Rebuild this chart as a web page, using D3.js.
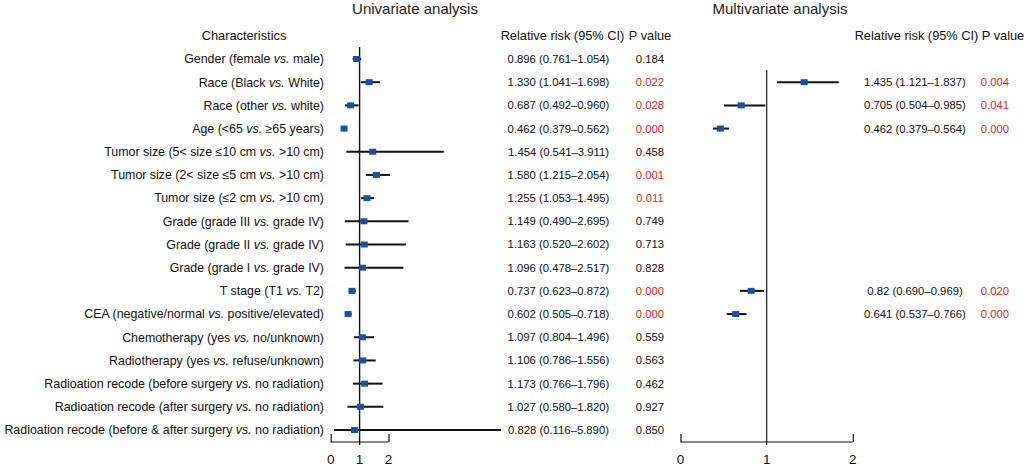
<!DOCTYPE html>
<html><head><meta charset="utf-8">
<script src="https://cdn.jsdelivr.net/npm/d3@7/dist/d3.min.js"></script>
<style>
html,body{margin:0;padding:0;background:#fff;}
svg text{font-family:"Liberation Sans",Arial,Helvetica,sans-serif;}
</style></head>
<body><svg id="c" width="1026" height="467"></svg>
<script>
// ---- data ----
const labelPre = ["Gender (female","Race (Black","Race (other","Age (<65","Tumor size (5< size ≤10 cm","Tumor size (2< size ≤5 cm","Tumor size (≤2 cm","Grade (grade III","Grade (grade II","Grade (grade I","T stage (T1","CEA (negative/normal","Chemotherapy (yes","Radiotherapy (yes","Radioation recode (before surgery","Radioation recode (after surgery","Radioation recode (before & after surgery"];
const labelPost = ["male)","White)","white)","≥65 years)",">10 cm)",">10 cm)",">10 cm)","grade IV)","grade IV)","grade IV)","T2)","positive/elevated)","no/unknown)","refuse/unknown)","no radiation)","no radiation)","no radiation)"];
const uniRR = [0.896,1.330,0.687,0.462,1.454,1.580,1.255,1.149,1.163,1.096,0.737,0.602,1.097,1.106,1.173,1.027,0.828];
const uniLo = [0.761,1.041,0.492,0.379,0.541,1.215,1.053,0.490,0.520,0.478,0.623,0.505,0.804,0.786,0.766,0.580,0.116];
const uniHi = [1.054,1.698,0.960,0.562,3.911,2.054,1.495,2.695,2.602,2.517,0.872,0.718,1.496,1.556,1.796,1.820,5.890];
const uniText = ["0.896 (0.761–1.054)","1.330 (1.041–1.698)","0.687 (0.492–0.960)","0.462 (0.379–0.562)","1.454 (0.541–3.911)","1.580 (1.215–2.054)","1.255 (1.053–1.495)","1.149 (0.490–2.695)","1.163 (0.520–2.602)","1.096 (0.478–2.517)","0.737 (0.623–0.872)","0.602 (0.505–0.718)","1.097 (0.804–1.496)","1.106 (0.786–1.556)","1.173 (0.766–1.796)","1.027 (0.580–1.820)","0.828 (0.116–5.890)"];
const uniP = ["0.184","0.022","0.028","0.000","0.458","0.001","0.011","0.749","0.713","0.828","0.000","0.000","0.559","0.563","0.462","0.927","0.850"];
const multiRow = [1,2,3,10,11];
const multiRR = [1.435,0.705,0.462,0.82,0.641];
const multiLo = [1.121,0.504,0.379,0.690,0.537];
const multiHi = [1.837,0.985,0.564,0.969,0.766];
const multiText = ["1.435 (1.121–1.837)","0.705 (0.504–0.985)","0.462 (0.379–0.564)","0.82 (0.690–0.969)","0.641 (0.537–0.766)"];
const multiP = ["0.004","0.041","0.000","0.020","0.000"];
const axisTicks = [0,1,2];

// ---- layout ----
const svg = d3.select("#c");
const RED = "#e4261f", BLUE = "#1f4f9b", INK = "#111";
const fsLab = 12.4, fsHdr = 12.8, fsVal = 11.3;
const y = d3.scalePoint().domain(d3.range(17)).range([59, 430]);
const xL = d3.scaleLinear().domain([0,2]).range([330.7, 388.5]);
const xR = d3.scaleLinear().domain([0,2]).range([680.5, 852.8]);
const axisY = 442;

// titles
svg.append("text").attr("x",415).attr("y",13.5).attr("text-anchor","middle").attr("font-size",15).attr("fill","#222").text("Univariate analysis");
svg.append("text").attr("x",780).attr("y",13.5).attr("text-anchor","middle").attr("font-size",15).attr("fill","#222").text("Multivariate analysis");
// headers
const hdrY = 39.5;
svg.append("text").attr("x",244).attr("y",hdrY).attr("text-anchor","middle").attr("font-size",fsHdr).attr("fill",INK).text("Characteristics");
svg.append("text").attr("x",562.5).attr("y",hdrY).attr("text-anchor","middle").attr("font-size",fsHdr).attr("fill",INK).text("Relative risk (95% CI)");
svg.append("text").attr("x",650).attr("y",hdrY).attr("text-anchor","middle").attr("font-size",fsHdr).attr("fill",INK).text("P value");
svg.append("text").attr("x",916.5).attr("y",hdrY).attr("text-anchor","middle").attr("font-size",fsHdr).attr("fill",INK).text("Relative risk (95% CI)");
svg.append("text").attr("x",1003).attr("y",hdrY).attr("text-anchor","middle").attr("font-size",fsHdr).attr("fill",INK).text("P value");

// labels
const lab = svg.append("g");
d3.range(17).forEach(i=>{
  const t = lab.append("text").attr("x",324).attr("y",y(i)).attr("dy","0.35em").attr("text-anchor","end").attr("font-size",fsLab).attr("fill",INK);
  t.append("tspan").text(labelPre[i]+" ");
  t.append("tspan").attr("font-style","italic").text("vs.");
  t.append("tspan").text(" "+labelPost[i]);
});

// left ref line
svg.append("line").attr("x1",xL(1)).attr("x2",xL(1)).attr("y1",47).attr("y2",445).attr("stroke",INK).attr("stroke-width",1.4);
// right ref line
svg.append("line").attr("x1",xR(1)).attr("x2",xR(1)).attr("y1",70).attr("y2",445).attr("stroke","#333").attr("stroke-width",1.4);

// axes
function drawAxis(sc){
  const g = svg.append("g").attr("transform",`translate(0,${axisY})`);
  const ax = d3.axisTop(sc).tickValues(axisTicks).tickSize(8).tickFormat("");
  g.call(ax);
  g.select(".domain").remove();
  g.append("line").attr("x1",sc(0)).attr("x2",sc(2)).attr("stroke",INK).attr("stroke-width",1.2);
  g.selectAll(".tick line").attr("stroke",INK).attr("stroke-width",1.2);
  g.selectAll(".tick").filter(d=>d===1).select("line").remove();
  axisTicks.forEach(v=>{
    svg.append("text").attr("x",sc(v)).attr("y",464).attr("text-anchor","middle").attr("font-size",13.5).attr("fill",INK).text(v);
  });
}
drawAxis(xL); drawAxis(xR);

// univariate marks
const gu = svg.append("g");
d3.range(17).forEach(i=>{
  gu.append("line").attr("x1",xL(uniLo[i])).attr("x2",xL(uniHi[i])).attr("y1",y(i)).attr("y2",y(i)).attr("stroke",INK).attr("stroke-width",2);
  gu.append("rect").attr("x",xL(uniRR[i])-3.5).attr("y",y(i)-3).attr("width",7).attr("height",6).attr("fill",BLUE);
  gu.append("text").attr("x",558.5).attr("y",y(i)).attr("dy","0.35em").attr("text-anchor","middle").attr("font-size",fsVal).attr("fill",INK).text(uniText[i]);
  gu.append("text").attr("x",650).attr("y",y(i)).attr("dy","0.35em").attr("text-anchor","middle").attr("font-size",fsVal).attr("fill", +uniP[i] < 0.05 ? RED : INK).text(uniP[i]);
});

// multivariate marks
const gm = svg.append("g");
multiRow.forEach((r,k)=>{
  gm.append("line").attr("x1",xR(multiLo[k])).attr("x2",xR(multiHi[k])).attr("y1",y(r)).attr("y2",y(r)).attr("stroke",INK).attr("stroke-width",2);
  gm.append("rect").attr("x",xR(multiRR[k])-3.5).attr("y",y(r)-3).attr("width",7).attr("height",6).attr("fill",BLUE);
  gm.append("text").attr("x",915).attr("y",y(r)).attr("dy","0.35em").attr("text-anchor","middle").attr("font-size",fsVal).attr("fill",INK).text(multiText[k]);
  gm.append("text").attr("x",995).attr("y",y(r)).attr("dy","0.35em").attr("text-anchor","middle").attr("font-size",fsVal).attr("fill", +multiP[k] < 0.05 ? RED : INK).text(multiP[k]);
});
</script></body></html>
